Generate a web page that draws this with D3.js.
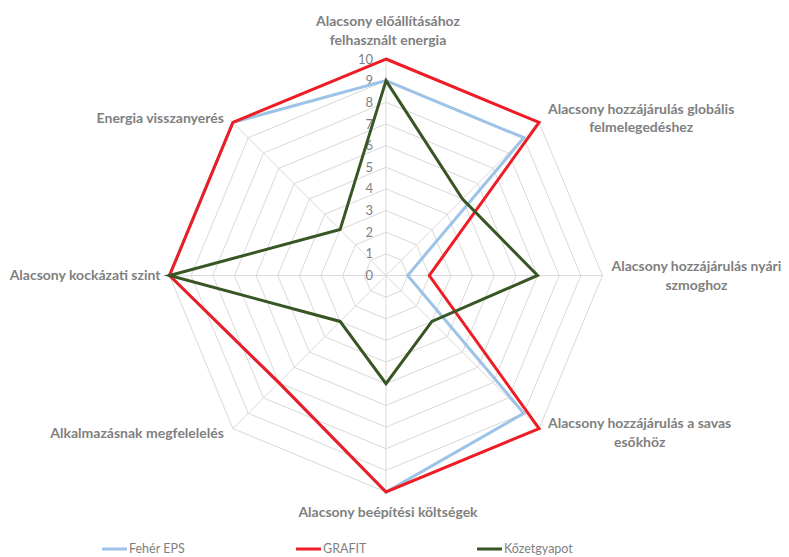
<!DOCTYPE html>
<html>
<head>
<meta charset="utf-8">
<script src="https://cdn.jsdelivr.net/npm/d3@7"></script>
<style>
  html, body { margin: 0; padding: 0; background: #fff; }
  svg { display: block; }
</style>
</head>
<body>
<svg id="chart" width="789" height="557"></svg>
<script>
// ---- DATA ----
const categories = [
  "Alacsony előállításához\nfelhasznált energia",
  "Alacsony hozzájárulás globális\nfelmelegedéshez",
  "Alacsony hozzájárulás nyári\nszmoghoz",
  "Alacsony hozzájárulás a savas\nesőkhöz",
  "Alacsony beépítési költségek",
  "Alkalmazásnak megfelelelés",
  "Alacsony kockázati szint",
  "Energia visszanyerés"
];
const seriesNames = ["Fehér EPS", "GRAFIT", "Kőzetgyapot"];
const feherEPS   = [9, 9, 1, 9, 10, 7, 10, 10];
const grafit     = [10, 10, 2, 10, 10, 7, 10, 10];
const kozetgyapot = [9, 5, 7, 3, 5, 3, 10, 3];
const tickLabels = [0, 1, 2, 3, 4, 5, 6, 7, 8, 9, 10];

// ---- LAYOUT ----
const colors = ["#9DC3E6", "#EE1C25", "#375623"];
const svg = d3.select("#chart");
const cx = 386, cy = 275.5, R = 216.5;
const r = d3.scaleLinear().domain([0, 10]).range([0, R]);
const n = categories.length;
const angle = i => i * 2 * Math.PI / n;
const px = (i, v) => cx + r(v) * Math.sin(angle(i));
const py = (i, v) => cy - r(v) * Math.cos(angle(i));

const labelFont = "Lato, 'Open Sans', sans-serif";
const gridColor = "#D9D9D9";
const textColor = "#7F7F7F";

// grid
const g = svg.append("g");
tickLabels.filter(t => t > 0).forEach(t => {
  const pts = d3.range(n).map(i => [px(i, t), py(i, t)]);
  g.append("path")
    .attr("d", d3.line()(pts) + "Z")
    .attr("fill", "none")
    .attr("stroke", gridColor)
    .attr("stroke-width", 1);
});
d3.range(n).forEach(i => {
  g.append("line")
    .attr("x1", cx).attr("y1", cy)
    .attr("x2", px(i, 10)).attr("y2", py(i, 10))
    .attr("stroke", gridColor).attr("stroke-width", 1);
});

// tick labels
g.selectAll("text.tick").data(tickLabels).enter().append("text")
  .attr("class", "tick")
  .attr("x", cx - 13)
  .attr("y", d => cy - r(d))
  .attr("dy", "0.35em")
  .attr("text-anchor", "end")
  .attr("font-family", labelFont)
  .attr("font-size", 13)
  .attr("fill", textColor)
  .text(d => d);

// series
const allSeries = [feherEPS, grafit, kozetgyapot];
const lineGen = d3.lineRadial()
  .angle((d, i) => angle(i))
  .radius(d => r(d))
  .curve(d3.curveLinearClosed);
const sg = svg.append("g").attr("transform", `translate(${cx},${cy})`);
allSeries.forEach((s, k) => {
  sg.append("path")
    .attr("d", lineGen(s))
    .attr("fill", "none")
    .attr("stroke", colors[k])
    .attr("stroke-width", 3)
    .attr("stroke-linejoin", "miter");
});

// category labels
const lineH = 18.5;
categories.forEach((c, i) => {
  const lines = c.split("\n");
  const a = angle(i);
  const s = Math.sin(a), co = Math.cos(a);
  const vx = px(i, 10), vy = py(i, 10);
  let anchor, x, yTop;
  const blockH = lines.length * lineH;
  if (Math.abs(s) < 1e-6) {
    anchor = "middle";
    x = vx + 2;
    if (co > 0) yTop = vy - 10 - blockH; else yTop = vy + 11;
  } else {
    x = s > 0 ? vx + 9 : vx - 9;
    anchor = s > 0 ? "start" : "end";
    yTop = vy - blockH / 2 - co * 6;
  }
  const t = svg.append("text")
    .attr("font-family", labelFont)
    .attr("font-size", 14)
    .attr("font-weight", "bold")
    .attr("fill", textColor);
  lines.forEach((ln, j) => {
    t.append("tspan").attr("x", x).attr("y", yTop + lineH * (j + 0.5)).attr("dy", "0.35em").text(ln);
  });
  if (lines.length > 1 && anchor !== "middle") {
    const widths = t.selectAll("tspan").nodes().map(nd => nd.getComputedTextLength());
    const maxW = d3.max(widths);
    const center = anchor === "start" ? x + maxW / 2 : x - maxW / 2;
    t.selectAll("tspan").attr("x", center).attr("text-anchor", "middle");
  } else {
    t.attr("text-anchor", anchor);
  }
});

// legend
const legendX = [102, 296, 477];
const lg = svg.append("g");
seriesNames.forEach((name, k) => {
  lg.append("line")
    .attr("x1", legendX[k]).attr("x2", legendX[k] + 25)
    .attr("y1", 549).attr("y2", 549)
    .attr("stroke", colors[k]).attr("stroke-width", 3);
  lg.append("text")
    .attr("x", legendX[k] + 27)
    .attr("y", 549)
    .attr("dy", "0.35em")
    .attr("font-family", labelFont)
    .attr("font-size", 12.5)
    .attr("fill", textColor)
    .text(name);
});
</script>
</body>
</html>
